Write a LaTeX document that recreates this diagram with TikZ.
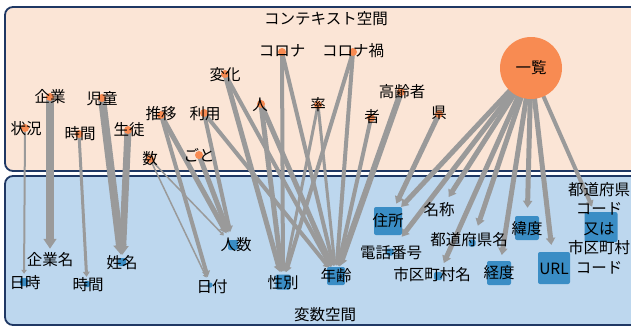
\documentclass[tikz,border=0pt]{standalone}
\usepackage{fontspec}
\setmainfont{Noto Sans CJK JP}
\usetikzlibrary{arrows.meta}
\definecolor{ctxfill}{HTML}{FBE5D6}
\definecolor{varfill}{HTML}{BDD7EE}
\definecolor{panelline}{HTML}{1F3864}
\definecolor{dotc}{HTML}{F88B52}
\definecolor{sqc}{HTML}{3A8DC5}
\definecolor{edgec}{HTML}{9A9A9A}
\tikzset{
  lbl/.style={font=\fontsize{15.5}{19.5}\selectfont, inner sep=0pt, text=black},
  dotn/.style={circle, fill=dotc, minimum size=8pt, inner sep=0pt},
  sqn/.style={fill=sqc, rounded corners=2pt, inner sep=0pt, minimum size=#1},
  tgt/.style={circle, inner sep=0pt, minimum size=#1},
  ed/.style={draw=edgec, line width=#1, -{Triangle[length=2pt 1.0, width=3pt 1.2]}},
  panel/.style={draw=panelline, line width=1.8pt, rounded corners=8pt},
}
\begin{document}
\begin{tikzpicture}[x=1pt, y=-1pt]
\clip (0,0) rectangle (631,327);
\fill[white] (0,0) rectangle (631,327);
% panels
\draw[panel, fill=ctxfill] (5,7) rectangle (660,171);
\draw[panel, fill=varfill] (5,176) rectangle (660,325);
\node[lbl] (t-ctx) at (326,19) {コンテキスト空間};
\node[lbl] (t-var) at (325,315) {変数空間};
% context coordinates
\coordinate (jokyo) at (25,128);
\coordinate (kigyo) at (50,97);
\coordinate (jikanc) at (79,134);
\coordinate (jido) at (102,98);
\coordinate (seito) at (128,130);
\coordinate (suii) at (161,115);
\coordinate (riyo) at (204,113);
\coordinate (su) at (150,159);
\coordinate (goto) at (199,155);
\coordinate (henka) at (225,74);
\coordinate (hito) at (261,104);
\coordinate (corona) at (282,52);
\coordinate (coronaka) at (353,52);
\coordinate (ritsu) at (318,105);
\coordinate (koreisha) at (401,92);
\coordinate (sha) at (371,118);
\coordinate (ken) at (439,114);
\coordinate (ichiran) at (531,68);
% variable targets
\node[tgt=16pt] (nichiji) at (24,282) {};
\node[tgt=18pt] (kigyomei) at (50,258) {};
\node[tgt=14pt] (jikanv) at (87,284) {};
\node[tgt=14pt] (seimei) at (122,262) {};
\node[tgt=26pt] (ninzu) at (233,245) {};
\node[tgt=16pt] (hiduke) at (210,285) {};
\node[tgt=20pt] (seibetsu) at (283,282) {};
\node[tgt=20pt] (nenrei) at (336,276) {};
\node[tgt=38pt] (jusho) at (388,221) {};
\node[tgt=28pt] (meisho) at (441,209) {};
\node[tgt=38pt] (denwa) at (390,252) {};
\node[tgt=36pt] (todofukenmei) at (472,243) {};
\node[tgt=28pt] (shikuchoson) at (438,276) {};
\node[tgt=36pt] (keido) at (499,273) {};
\node[tgt=40pt] (ido) at (527,228) {};
\node[tgt=46pt] (url) at (554,268) {};
\node[tgt=44pt] (code) at (601,227) {};
% edges
\draw[ed=2] (jokyo) -- (nichiji);
\draw[ed=8] (kigyo) -- (kigyomei);
\draw[ed=3] (jikanc) -- (jikanv);
\draw[ed=8] (jido) -- (seimei);
\draw[ed=7] (seito) -- (seimei);
\draw[ed=1.5] (su) -- (hiduke);
\draw[ed=1.5] (su) -- (ninzu);
\draw[ed=4] (suii) -- (hiduke);
\draw[ed=5] (suii) -- (ninzu);
\draw[ed=4] (riyo) -- (ninzu);
\draw[ed=4] (riyo) -- (nenrei);
\draw[ed=5] (goto) -- (ninzu);
\draw[ed=5] (henka) -- (seibetsu);
\draw[ed=4] (henka) -- (nenrei);
\draw[ed=5] (hito) -- (seibetsu);
\draw[ed=5] (hito) -- (nenrei);
\draw[ed=4] (corona) -- (seibetsu);
\draw[ed=4] (corona) -- (nenrei);
\draw[ed=4] (coronaka) -- (seibetsu);
\draw[ed=4] (coronaka) -- (nenrei);
\draw[ed=3] (ritsu) -- (seibetsu);
\draw[ed=3] (ritsu) -- (nenrei);
\draw[ed=4] (sha) -- (nenrei);
\draw[ed=6] (koreisha) -- (nenrei);
\draw[ed=5] (ken) -- (jusho);
\draw[ed=5] (ichiran) -- (jusho);
\draw[ed=5] (ichiran) -- (denwa);
\draw[ed=5] (ichiran) -- (meisho);
\draw[ed=5] (ichiran) -- (shikuchoson);
\draw[ed=5] (ichiran) -- (todofukenmei);
\draw[ed=5] (ichiran) -- (keido);
\draw[ed=5] (ichiran) -- (ido);
\draw[ed=5] (ichiran) -- (url);
\draw[ed=4] (ichiran) -- (code);
% context dots
\foreach \n in {jokyo,kigyo,jikanc,jido,seito,suii,riyo,su,goto,henka,hito,corona,coronaka,ritsu,koreisha,sha,ken}
  \node[dotn] (d-\n) at (\n) {};
\node[circle, fill=dotc, minimum size=62pt, inner sep=0pt] (d-ichiran) at (ichiran) {};
% variable squares
\node[sqn=8pt] (s-nichiji) at (24,282) {};
\node[sqn=6pt] (s-jikanv) at (87,284) {};
\node[sqn=8pt] (s-seimei) at (122,262) {};
\node[sqn=10pt] (s-ninzu) at (233,245) {};
\node[sqn=5pt] (s-hiduke) at (210,285) {};
\node[sqn=15pt] (s-seibetsu) at (283,282) {};
\node[sqn=18pt] (s-nenrei) at (336,276) {};
\node[sqn=28pt] (s-jusho) at (388,221) {};
\node[sqn=7pt] (s-denwa) at (390,252) {};
\node[sqn=7pt] (s-todofukenmei) at (472,243) {};
\node[sqn=8pt] (s-shikuchoson) at (438,276) {};
\node[sqn=24pt] (s-keido) at (499,273) {};
\node[sqn=24pt] (s-ido) at (527,228) {};
\node[sqn=32pt] (s-url) at (554,268) {};
\node[sqn=30pt, minimum width=33pt] (s-code) at (601,227) {};
% context labels
\node[lbl] (l-jokyo) at (26,129) {状況};
\node[lbl] (l-kigyo) at (50,97) {企業};
\node[lbl] (l-jikanc) at (80,134) {時間};
\node[lbl] (l-jido) at (102,99) {児童};
\node[lbl] (l-seito) at (129,130) {生徒};
\node[lbl] (l-suii) at (161,114) {推移};
\node[lbl] (l-riyo) at (205,114) {利用};
\node[lbl] (l-su) at (150,159) {数};
\node[lbl] (l-goto) at (199,155) {ごと};
\node[lbl] (l-henka) at (225,75) {変化};
\node[lbl] (l-hito) at (260,105) {人};
\node[lbl] (l-corona) at (282,51) {コロナ};
\node[lbl] (l-coronaka) at (353,51) {コロナ禍};
\node[lbl] (l-ritsu) at (318,105) {率};
\node[lbl] (l-koreisha) at (402,92) {高齢者};
\node[lbl] (l-sha) at (372,117) {者};
\node[lbl] (l-ken) at (439,113) {県};
\node[lbl] (l-ichiran) at (531,68) {一覧};
% variable labels
\node[lbl] (l-nichiji) at (25,283) {日時};
\node[lbl] (l-kigyomei) at (50,260) {企業名};
\node[lbl] (l-jikanv) at (88,285) {時間};
\node[lbl] (l-seimei) at (122,263) {姓名};
\node[lbl] (l-ninzu) at (236,245) {人数};
\node[lbl] (l-hiduke) at (212,287) {日付};
\node[lbl] (l-seibetsu) at (283,283) {性別};
\node[lbl] (l-nenrei) at (336,276) {年齢};
\node[lbl] (l-jusho) at (388,221) {住所};
\node[lbl] (l-meisho) at (439,210) {名称};
\node[lbl] (l-denwa) at (391,253) {電話番号};
\node[lbl] (l-todofukenmei) at (469,240) {都道府県名};
\node[lbl] (l-shikuchoson) at (432,275) {市区町村名};
\node[lbl] (l-keido) at (499,273) {経度};
\node[lbl] (l-ido) at (527,229) {緯度};
\node[lbl] (l-url) at (554,269) {URL};
\node[lbl, align=center] (l-code) at (599,228) {都道府県\\コード\\又は\\市区町村\\コード};
\end{tikzpicture}
\end{document}
